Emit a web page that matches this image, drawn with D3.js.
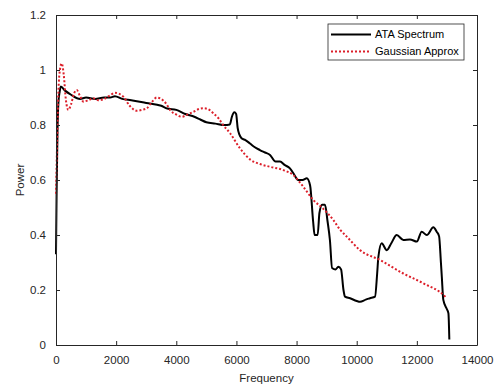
<!DOCTYPE html>
<html>
<head>
<meta charset="utf-8">
<script src="https://cdn.jsdelivr.net/npm/d3@7"></script>
<style>
  body { margin: 0; background: white; }
  svg { font-family: "Liberation Sans", Arial, sans-serif; }
</style>
</head>
<body>
<div id="chart"></div>
<script>
// ATA spectrum: [frequency, power]
const ataSpectrum = [
  [0,0.33],[20,0.55],[50,0.78],[80,0.88],[120,0.92],[160,0.94],[300,0.925],[500,0.91],
  [800,0.895],[1000,0.9],[1300,0.895],[1600,0.9],[1800,0.9],[1960,0.905],[2200,0.895],
  [2500,0.89],[3000,0.88],[3500,0.87],[3700,0.86],[4000,0.855],[4300,0.84],[4600,0.83],
  [4800,0.82],[5000,0.81],[5300,0.805],[5600,0.80],[5780,0.802],[5850,0.83],[5930,0.846],
  [5990,0.84],[6040,0.79],[6100,0.765],[6170,0.752],[6300,0.745],[6450,0.733],[6600,0.72],
  [6780,0.709],[6950,0.70],[7117,0.691],[7300,0.667],[7450,0.667],[7600,0.655],[7780,0.642],
  [7920,0.62],[8050,0.60],[8200,0.60],[8340,0.606],[8450,0.58],[8550,0.45],
  [8600,0.40],[8700,0.40],[8760,0.48],[8850,0.51],[8945,0.51],[9030,0.45],[9110,0.38],
  [9180,0.28],[9300,0.275],[9390,0.285],[9480,0.275],[9560,0.20],[9610,0.176],[9780,0.17],
  [10000,0.16],[10110,0.157],[10300,0.165],[10440,0.17],[10610,0.176],[10680,0.26],
  [10720,0.32],[10830,0.37],[11000,0.345],[11150,0.37],[11330,0.40],[11550,0.382],
  [11770,0.384],[12000,0.376],[12160,0.412],[12330,0.40],[12550,0.428],[12660,0.412],
  [12740,0.395],[12800,0.30],[12830,0.248],[12880,0.164],[13000,0.13],[13050,0.115],[13080,0.02]
];

// Gaussian approximation
const gaussApprox = [
  [0,0.55],[40,0.75],[80,0.92],[130,1.0],[190,1.024],[260,0.98],[330,0.89],[410,0.855],
  [500,0.875],[600,0.915],[690,0.927],[800,0.905],[910,0.885],[1080,0.89],[1240,0.897],
  [1400,0.89],[1570,0.893],[1760,0.905],[1960,0.917],[2240,0.903],[2450,0.87],[2680,0.852],
  [2850,0.855],[3020,0.861],[3200,0.885],[3350,0.90],[3460,0.897],[3680,0.875],[3790,0.855],
  [4000,0.838],[4180,0.83],[4370,0.838],[4570,0.848],[4750,0.858],[4900,0.861],[5050,0.858],
  [5230,0.843],[5400,0.825],[5560,0.80],[5790,0.77],[6120,0.715],[6450,0.675],[6780,0.658],
  [7120,0.648],[7560,0.636],[7890,0.618],[8220,0.576],[8560,0.527],[8890,0.495],[9220,0.455],
  [9440,0.42],[9670,0.394],[10110,0.345],[10780,0.309],[11550,0.26],[12220,0.224],
  [12940,0.176],[12990,0.17]
];

const xTicks = [0, 2000, 4000, 6000, 8000, 10000, 12000, 14000];
const yTicks = [0, 0.2, 0.4, 0.6, 0.8, 1, 1.2];
const seriesNames = ["ATA Spectrum", "Gaussian Approx"];

let width = 500, height = 385;
let margin = { top: 15, right: 23, bottom: 40, left: 56 };
const axisColor = "#262626";

let svg = d3.select("#chart")
            .append("svg")
            .attr("width", width)
            .attr("height", height)
            .style("background", "white");

const x = d3.scaleLinear()
            .domain([0, 14000])
            .range([margin.left, width - margin.right]);

const y = d3.scaleLinear()
            .domain([0, 1.2])
            .range([height - margin.bottom, margin.top]);

// lines
const line = d3.line()
               .x(d => x(d[0]))
               .y(d => y(d[1]))
               .curve(d3.curveMonotoneX);

svg.append("path")
   .datum(ataSpectrum)
   .attr("fill", "none")
   .attr("stroke", "black")
   .attr("stroke-width", 2)
   .attr("d", line);

svg.append("path")
   .datum(gaussApprox)
   .attr("fill", "none")
   .attr("stroke", "#dc1f2a")
   .attr("stroke-width", 2)
   .attr("stroke-dasharray", "2,2")
   .attr("d", line);

// axes, MATLAB style: ticks inside, box on
const tickLen = 4;
function styleAxis(g) {
  g.selectAll("path").attr("stroke", axisColor);
  g.selectAll("line").attr("stroke", axisColor);
  g.selectAll("text").attr("fill", axisColor).attr("font-size", "11.5px");
}

svg.append("g")
   .attr("transform", `translate(0, ${height - margin.bottom})`)
   .call(d3.axisBottom(x).tickValues(xTicks).tickSizeInner(-tickLen).tickSizeOuter(0).tickPadding(11).tickFormat(d3.format("d")))
   .call(styleAxis);

svg.append("g")
   .attr("transform", `translate(0, ${margin.top})`)
   .call(d3.axisTop(x).tickValues(xTicks).tickSizeInner(-tickLen).tickSizeOuter(0).tickFormat(""))
   .call(styleAxis);

svg.append("g")
   .attr("transform", `translate(${margin.left}, 0)`)
   .call(d3.axisLeft(y).tickValues(yTicks).tickSizeInner(-tickLen).tickSizeOuter(0).tickPadding(10).tickFormat(d => d3.format("")(+d.toFixed(1))))
   .call(styleAxis);

svg.append("g")
   .attr("transform", `translate(${width - margin.right}, 0)`)
   .call(d3.axisRight(y).tickValues(yTicks).tickSizeInner(-tickLen).tickSizeOuter(0).tickFormat(""))
   .call(styleAxis);

// axis labels
svg.append("text")
   .attr("x", (margin.left + width - margin.right) / 2)
   .attr("y", height - 3)
   .attr("text-anchor", "middle")
   .attr("font-size", "11.5px")
   .attr("fill", axisColor)
   .text("Frequency");

svg.append("text")
   .attr("transform", "rotate(-90)")
   .attr("x", -(margin.top + height - margin.bottom) / 2)
   .attr("y", 24)
   .attr("text-anchor", "middle")
   .attr("font-size", "11.5px")
   .attr("fill", axisColor)
   .text("Power");

// legend
const legend = svg.append("g")
                  .attr("transform", "translate(328, 24)");

legend.append("rect")
      .attr("width", 136)
      .attr("height", 36)
      .attr("fill", "white")
      .attr("stroke", axisColor)
      .attr("stroke-width", 0.8);

seriesNames.forEach((name, i) => {
  const ly = 10.5 + i * 17;
  legend.append("line")
        .attr("x1", 3)
        .attr("x2", 43)
        .attr("y1", ly)
        .attr("y2", ly)
        .attr("stroke", i === 0 ? "black" : "#dc1f2a")
        .attr("stroke-width", 2)
        .attr("stroke-dasharray", i === 0 ? null : "2,2");

  legend.append("text")
        .attr("x", 47)
        .attr("y", ly)
        .attr("dy", "0.35em")
        .attr("font-size", "11px")
        .attr("fill", "black")
        .text(name);
});
</script>
</body>
</html>
